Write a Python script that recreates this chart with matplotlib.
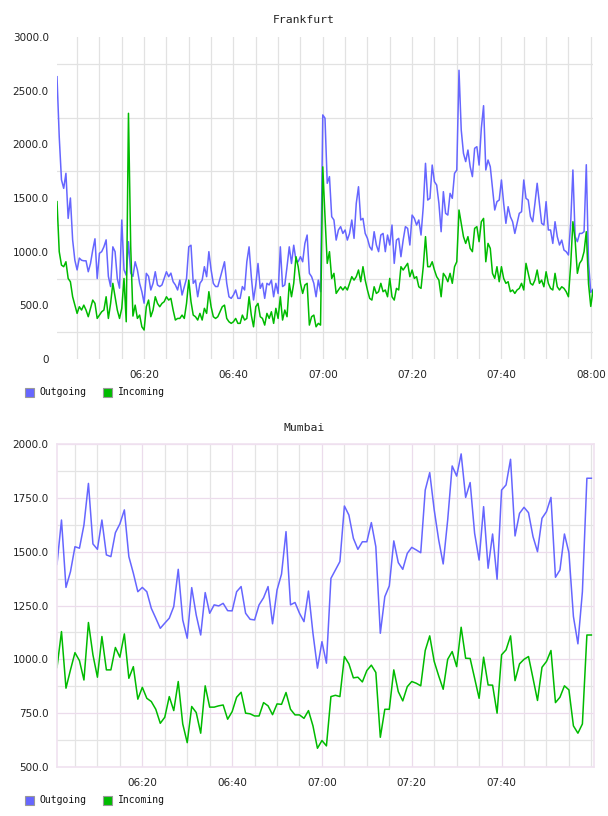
import matplotlib
matplotlib.use("Agg")
import matplotlib.pyplot as plt
import matplotlib.dates as mdates
from matplotlib.patches import Rectangle
from matplotlib.ticker import FixedLocator, FuncFormatter
import pandas as pd

# Frankfurt, samples every 30 s from 06:00:30
frankfurt_start = "2000-01-01 06:00:30"
frankfurt_out = [
    2630, 2070, 1670, 1590, 1730, 1310, 1500, 1110, 920, 830,
    940, 920, 915, 915, 813, 890, 1015, 1120, 750, 985,
    1000, 1045, 1110, 770, 675, 1045, 1000, 750, 660, 1295,
    830, 780, 1093, 800, 770, 906, 830, 705, 627, 520,
    798, 770, 643, 705, 813, 690, 675, 690, 750, 813,
    767, 800, 720, 690, 643, 735, 596, 675, 750, 1045,
    1060, 705, 735, 580, 705, 735, 860, 767, 1000, 830,
    705, 675, 675, 750, 830, 906, 705, 580, 565, 596,
    643, 565, 565, 675, 643, 906, 1045, 767, 550, 690,
    890, 658, 705, 565, 705, 690, 735, 580, 705, 610,
    1045, 675, 690, 860, 1045, 890, 1060, 920, 906, 953,
    906, 1077, 1155, 798, 767, 705, 580, 735, 627, 2274,
    2243, 1637, 1699, 1326, 1295, 1108, 1202, 1233, 1170, 1202,
    1108, 1170, 1295, 1124, 1450, 1605, 1295, 1310, 1170, 1124,
    1046, 1015, 1186, 1062, 1000, 1155, 1170, 1000, 1155, 1062,
    1248, 891, 1108, 1124, 953, 1108, 1233, 1217, 1062, 1341,
    1310, 1248, 1295, 1155, 1419, 1823, 1481, 1497, 1807, 1652,
    1621, 1450, 1186, 1559, 1357, 1341, 1543, 1497, 1730, 1760,
    2690, 2134, 1916, 1839, 1947, 1792, 1699, 1963, 1978, 1807,
    2150, 2360, 1761, 1854, 1792, 1590, 1388, 1466, 1481, 1668,
    1450, 1264, 1419, 1326, 1279, 1170, 1264, 1357, 1372, 1668,
    1497, 1481, 1326, 1279, 1450, 1637, 1450, 1264, 1248, 1466,
    1202, 1202, 1077, 1279, 1140, 1062, 1108, 1015, 1000, 969,
    1264, 1761, 1140, 1093, 1170, 1170, 1186, 1810, 900, 620, 650,
]
frankfurt_in = [
    1466, 1000, 875, 860, 906, 750, 720, 580, 502, 425,
    487, 456, 502, 456, 394, 472, 549, 518, 378, 409,
    440, 456, 580, 378, 518, 705, 580, 456, 378, 472,
    750, 347, 2289, 1050, 400, 502, 378, 409, 300, 270,
    487, 549, 394, 456, 580, 518, 487, 518, 534, 580,
    549, 565, 456, 363, 378, 378, 409, 378, 518, 735,
    534, 409, 394, 363, 425, 363, 472, 425, 627, 487,
    394, 378, 394, 440, 487, 502, 378, 347, 332, 347,
    378, 332, 332, 409, 363, 378, 580, 409, 300, 487,
    518, 394, 378, 316, 425, 378, 440, 332, 472, 378,
    580, 363, 456, 394, 705, 580, 705, 953, 860, 705,
    611, 689, 705, 316, 394, 409, 300, 332, 316, 1790,
    1326, 891, 1000, 750, 798, 611, 643, 673, 643, 673,
    643, 705, 767, 735, 767, 829, 720, 860, 735, 643,
    565, 549, 673, 611, 627, 705, 627, 643, 580, 751,
    580, 549, 658, 643, 860, 829, 860, 891, 767, 829,
    751, 767, 673, 658, 860, 1140, 860, 860, 906, 829,
    767, 735, 580, 798, 767, 720, 798, 705, 860, 906,
    1388, 1264, 1140, 1077, 1140, 1031, 1000, 1217, 1233, 1093,
    1279, 1310, 906, 1077, 1031, 798, 751, 860, 720, 860,
    751, 705, 720, 627, 643, 611, 643, 658, 705, 643,
    891, 798, 705, 689, 735, 829, 705, 735, 673, 813,
    705, 658, 643, 798, 673, 643, 673, 658, 627, 580,
    875, 1279, 1108, 798, 891, 922, 1000, 1186, 700, 490, 640,
]

# Mumbai, samples every minute from 06:01
mumbai_start = "2000-01-01 06:01:00"
mumbai_out = [
    1441, 1647, 1334, 1407, 1523, 1516, 1624, 1817, 1536, 1511,
    1647, 1485, 1477, 1588, 1629, 1694, 1477, 1400, 1314, 1334,
    1314, 1237, 1191, 1144, 1168, 1191, 1245, 1418, 1183, 1098,
    1333, 1206, 1113, 1310, 1214, 1253, 1248, 1260, 1226, 1225,
    1314, 1338, 1214, 1186, 1183, 1253, 1286, 1338, 1165, 1322,
    1396, 1593, 1253, 1264, 1214, 1175, 1317, 1121, 959, 1082,
    982, 1376, 1415, 1454, 1712, 1670, 1562, 1511, 1546, 1546,
    1635, 1523, 1121, 1291, 1341, 1550, 1449, 1418, 1492, 1520,
    1508, 1495, 1786, 1867, 1694, 1554, 1443, 1647, 1898, 1851,
    1954, 1752, 1821, 1585, 1461, 1709, 1423, 1582, 1372, 1786,
    1810, 1929, 1573, 1678, 1706, 1681, 1570, 1500, 1655, 1686,
    1752, 1381, 1415, 1582, 1495, 1199, 1072, 1314, 1841, 1841,
]
mumbai_in = [
    962, 1129, 866, 951, 1031, 994, 904, 1171, 1021, 917,
    1106, 951, 951, 1055, 1010, 1118, 912, 966, 815, 870,
    819, 804, 768, 703, 731, 827, 762, 897, 700, 613,
    781, 753, 657, 877, 778, 778, 784, 788, 722, 757,
    824, 847, 750, 747, 737, 737, 799, 784, 743, 793,
    791, 846, 768, 742, 742, 726, 762, 691, 587, 623,
    598, 827, 833, 827, 1013, 979, 914, 917, 895, 948,
    973, 939, 638, 768, 768, 951, 850, 807, 873, 897,
    889, 877, 1041, 1109, 990, 923, 861, 1000, 1036, 966,
    1149, 1005, 1004, 912, 819, 1010, 881, 880, 750, 1021,
    1044, 1109, 901, 979, 1000, 1013, 912, 809, 963, 990,
    1041, 799, 824, 877, 858, 691, 657, 700, 1113, 1113,
]

series_names = ["Outgoing", "Incoming"]
series_colors = ["#6666ff", "#00bb00"]

W, H = 608, 816
fig = plt.figure(figsize=(W / 100, H / 100), dpi=100)


def fig_box(left, top, right, bottom):
    return [left / W, 1 - bottom / H, (right - left) / W, (bottom - top) / H]


def yfmt(v, pos):
    return "0" if v == 0 else f"{v:.1f}"


def setup(ax, t0, t1, ylo, yhi, ystep, major_grid, minor_grid, border):
    ax.set_xlim(t0, t1)
    ax.set_ylim(ylo, yhi)
    base = pd.Timestamp("2000-01-01 06:00")
    minor_x = [base + pd.Timedelta(minutes=m) for m in range(5, 125, 5)]
    major_x = [base + pd.Timedelta(minutes=m) for m in range(20, 125, 20)]
    ax.xaxis.set_major_locator(FixedLocator(mdates.date2num(major_x)))
    ax.xaxis.set_minor_locator(FixedLocator(mdates.date2num(minor_x)))
    ax.xaxis.set_major_formatter(mdates.DateFormatter("%H:%M"))
    majors_y = [ylo + ystep * k for k in range(int((yhi - ylo) / ystep) + 1)]
    minors_y = [v + ystep / 2 for v in majors_y[:-1]]
    ax.yaxis.set_major_locator(FixedLocator(majors_y))
    ax.yaxis.set_minor_locator(FixedLocator(minors_y))
    ax.yaxis.set_major_formatter(FuncFormatter(yfmt))
    ax.tick_params(which="both", length=0)
    ax.tick_params(axis="x", pad=8, labelsize=7.5, labelcolor="#222222")
    ax.tick_params(axis="y", pad=6, labelsize=7.5, labelcolor="#222222")
    if major_grid:
        ax.grid(True, which="major", color=major_grid, linewidth=0.9)
    ax.grid(True, which="minor", color=minor_grid, linewidth=0.9)
    ax.set_axisbelow(True)
    for s in ax.spines.values():
        if border:
            s.set_color(border)
            s.set_linewidth(1.2)
        else:
            s.set_visible(False)


def legend(y):
    yc = 1 - y / H
    for x_box, x_txt, name, col in zip([25, 103], [39, 118], series_names, series_colors):
        fig.add_artist(Rectangle((x_box / W, yc - 4.5 / H), 9 / W, 9 / H,
                                 transform=fig.transFigure, facecolor=col,
                                 edgecolor="#999999", linewidth=0.8))
        fig.text(x_txt / W, yc, name, fontsize=7, family="DejaVu Sans Mono",
                 va="center", ha="left", color="#111111")


# Frankfurt
t_f = pd.date_range(frankfurt_start, periods=len(frankfurt_out), freq="30s")
ax1 = fig.add_axes(fig_box(57, 37, 593, 359))
for vals, col in zip([frankfurt_out, frankfurt_in], series_colors):
    ax1.plot(t_f, vals, color=col, linewidth=1.1)
setup(ax1, t_f[0], t_f[-1], 0, 3000, 500, None, "#e2e2e2", None)
# vertical grid also at the labelled 20-minute marks
ax1.xaxis.grid(True, which="major", color="#e2e2e2", linewidth=0.9)
fig.text(0.5, 1 - 20 / H, "Frankfurt", fontsize=8.2, family="DejaVu Sans Mono",
         ha="center", va="center", color="#222222")
legend(392)

# Mumbai
t_m = pd.date_range(mumbai_start, periods=len(mumbai_out), freq="min")
ax2 = fig.add_axes(fig_box(57, 444, 594, 767))
for vals, col in zip([mumbai_out, mumbai_in], series_colors):
    ax2.plot(t_m, vals, color=col, linewidth=1.1)
setup(ax2, t_m[0], pd.Timestamp("2000-01-01 08:00:35"), 500, 2000, 250,
      "#ecdcec", "#e4e4e4", "#f0e2f0")
ax2.xaxis.set_major_locator(FixedLocator(mdates.date2num(
    [pd.Timestamp("2000-01-01 06:00") + pd.Timedelta(minutes=m) for m in range(20, 101, 20)])))
fig.text(0.5, 1 - 428 / H, "Mumbai", fontsize=8.2, family="DejaVu Sans Mono",
         ha="center", va="center", color="#222222")
legend(800)

fig.savefig("out.png", dpi=100)
